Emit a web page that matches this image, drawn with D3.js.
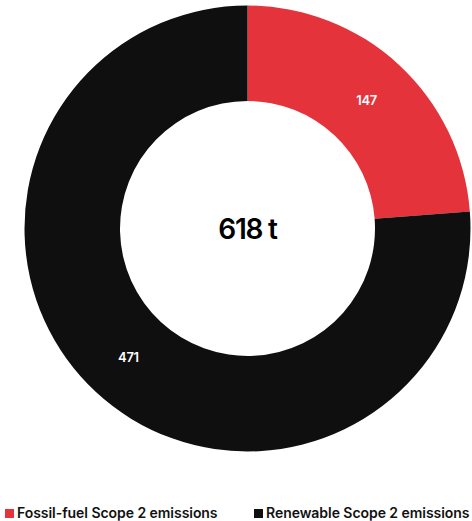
<!DOCTYPE html>
<html><head><meta charset="utf-8">
<script src="https://cdn.jsdelivr.net/npm/d3@7"></script>
<style>
html,body{margin:0;padding:0;background:#fff;}
svg{display:block;font-family:Inter, "Liberation Sans", sans-serif;}
</style></head>
<body><svg id="c" width="472" height="521"></svg>
<script>
const categories = ["Fossil-fuel Scope 2 emissions", "Renewable Scope 2 emissions"];
const values = [147, 471];
const colors = ["#e5333b", "#0f0f0f"];
const totalLabel = "618 t";

const svg = d3.select("#c");
const cx = 247.5, cy = 228.5, rOut = 223, rIn = 127.5;
const pie = d3.pie().sort(null).value(d => d)(values);
const arc = d3.arc().innerRadius(rIn).outerRadius(rOut);
const g = svg.append("g").attr("transform", `translate(${cx},${cy})`);
g.selectAll("path").data(pie).join("path")
  .attr("d", arc).attr("fill", (d,i) => colors[i]);
g.selectAll("text.v").data(pie).join("text").attr("class","v")
  .attr("transform", d => `translate(${arc.centroid(d)})`)
  .attr("text-anchor","middle").attr("dy","0.36em")
  .attr("fill","#fff").attr("font-size",13).attr("font-weight",600)
  .attr("letter-spacing","-0.3")
  .text(d => d.data);
g.append("text").attr("text-anchor","middle").attr("dy","0.36em")
  .attr("font-size",28).attr("font-weight",600).attr("letter-spacing","-1.2")
  .attr("fill","#000").text(totalLabel);

const legX = [5, 254];
const leg = svg.selectAll("g.leg").data(categories).join("g").attr("class","leg")
  .attr("transform",(d,i)=>`translate(${legX[i]},509)`);
leg.append("rect").attr("width",9).attr("height",9).attr("fill",(d,i)=>colors[i]);
leg.append("text").attr("x",12).attr("y",9).attr("font-size",14).attr("font-weight",600)
  .attr("letter-spacing","-0.05").attr("fill","#111").text(d=>d);
</script></body></html>
